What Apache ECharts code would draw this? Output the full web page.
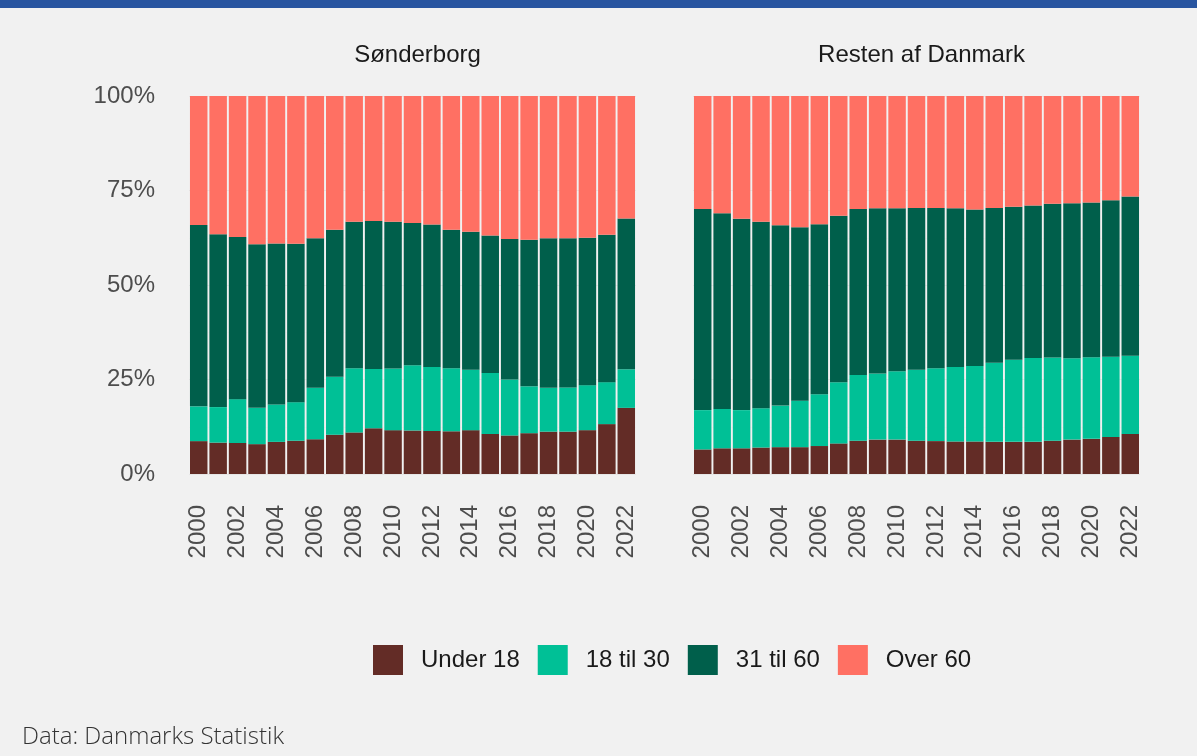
<!DOCTYPE html>
<html>
<head>
<meta charset="utf-8">
<script src="https://cdn.jsdelivr.net/npm/echarts@6/dist/echarts.min.js"></script>
<style>
  html, body { margin: 0; padding: 0; background: #f1f1f1; }
  #chart { width: 1197px; height: 756px; }
</style>
</head>
<body>
<div id="chart"></div>
<script>
const years = ['2000','2001','2002','2003','2004','2005','2006','2007','2008','2009','2010','2011',
               '2012','2013','2014','2015','2016','2017','2018','2019','2020','2021','2022'];
const groups = ['Under 18', '18 til 30', '31 til 60', 'Over 60'];
const panels = ['Sønderborg', 'Resten af Danmark'];

// Sønderborg, andel i procent
const sbUnder18 = [8.7,8.3,8.2,7.9,8.5,8.8,9.2,10.4,11.0,12.1,11.6,11.5,11.4,11.3,11.6,10.6,10.2,10.8,11.2,11.2,11.6,13.2,17.5];
const sb18til30 = [9.2,9.4,11.6,9.6,9.9,10.2,13.6,15.3,17.0,15.7,16.3,17.3,16.9,16.7,16.0,16.1,14.8,12.4,11.6,11.7,11.9,11.1,10.2];
const sb31til60 = [48.0,45.7,42.9,43.3,42.6,41.9,39.6,38.9,38.7,39.1,38.8,37.6,37.7,36.6,36.5,36.4,37.2,38.8,39.6,39.5,39.0,39.0,39.9];
const sbOver60  = [34.1,36.6,37.3,39.2,39.0,39.1,37.6,35.4,33.3,33.1,33.3,33.6,34.0,35.4,35.9,36.9,37.8,38.0,37.6,37.6,37.5,36.7,32.4];

// Resten af Danmark
const dkUnder18 = [6.5,6.8,6.8,7.0,7.1,7.1,7.4,8.1,8.8,9.1,9.1,8.8,8.7,8.6,8.6,8.5,8.5,8.5,8.8,9.1,9.3,9.8,10.6];
const dk18til30 = [10.4,10.4,10.1,10.4,11.0,12.3,13.7,16.2,17.4,17.5,18.1,18.8,19.3,19.7,20.0,20.9,21.7,22.2,22.0,21.5,21.6,21.2,20.7];
const dk31til60 = [53.2,51.8,50.6,49.3,47.7,45.9,45.0,44.0,43.9,43.7,43.1,42.8,42.4,42.0,41.4,41.0,40.5,40.3,40.7,41.0,40.9,41.4,42.1];
const dkOver60  = [29.9,31.0,32.5,33.3,34.2,34.7,33.9,31.7,29.9,29.7,29.7,29.6,29.6,29.7,30.0,29.6,29.3,29.0,28.5,28.4,28.2,27.6,26.6];

const colors = ['#632c26', '#00c096', '#005f4b', '#ff7063'];
const font = 'Liberation Sans, Arial, sans-serif';

const chart = echarts.init(document.getElementById('chart'));

const panelData = [
    [sbUnder18, sb18til30, sb31til60, sbOver60],
    [dkUnder18, dk18til30, dk31til60, dkOver60]
];

const grids = [
    { left: 189, top: 96, width: 447, height: 378 },
    { left: 693, top: 96, width: 447, height: 378 }
];

const xAxes = grids.map((g, i) => ({
    type: 'category',
    gridIndex: i,
    data: years,
    axisLine: { show: false },
    axisTick: { show: false },
    splitLine: { show: false },
    axisLabel: {
        rotate: 90,
        interval: 1,
        margin: 31,
        fontSize: 24,
        color: '#4d4d4d',
        fontFamily: font
    }
}));

const yAxes = grids.map((g, i) => ({
    type: 'value',
    gridIndex: i,
    min: 0,
    max: 100,
    interval: 25,
    axisLine: { show: false },
    axisTick: { show: false },
    splitLine: { show: true, lineStyle: { color: '#e6e6e6', width: 1 } },
    minorTick: { show: false, splitNumber: 2 },
    minorSplitLine: { show: true, lineStyle: { color: '#ebebeb', width: 0.5 } },
    axisLabel: {
        show: i === 0,
        margin: 34,
        fontSize: 24,
        color: '#4d4d4d',
        fontFamily: font,
        formatter: '{value}%'
    }
}));

const series = [];
panelData.forEach((arrs, p) => {
    arrs.forEach((vals, k) => {
        series.push({
            name: groups[k],
            type: 'bar',
            stack: 'panel' + p,
            xAxisIndex: p,
            yAxisIndex: p,
            barCategoryGap: '10%',
            itemStyle: { color: colors[k] },
            emphasis: { disabled: true },
            data: vals
        });
    });
});

chart.setOption({
    backgroundColor: '#f1f1f1',
    animation: false,
    textStyle: { fontFamily: font },
    title: panels.map((name, i) => ({
        text: name,
        left: grids[i].left + grids[i].width / 2,
        top: 38,
        textAlign: 'center',
        textStyle: { fontSize: 24, fontWeight: 'normal', color: '#1a1a1a', fontFamily: font }
    })),
    legend: {
        data: groups,
        left: 368,
        top: 640,
        icon: 'rect',
        itemWidth: 30,
        itemHeight: 30,
        itemGap: 18,
        textStyle: { fontSize: 24, color: '#1a1a1a', fontFamily: font, padding: [0, 0, 0, 13] }
    },
    grid: grids,
    xAxis: xAxes,
    yAxis: yAxes,
    series: series,
    graphic: [
        { type: 'rect', left: 0, top: 0, shape: { width: 1197, height: 8 }, style: { fill: '#2855a0' } },
        {
            type: 'text', left: 22, top: 725,
            style: { text: 'Data: Danmarks Statistik', fontSize: 24, fill: '#333333', fontFamily: 'Open Sans', fontWeight: 300 }
        }
    ]
});
</script>
</body>
</html>
